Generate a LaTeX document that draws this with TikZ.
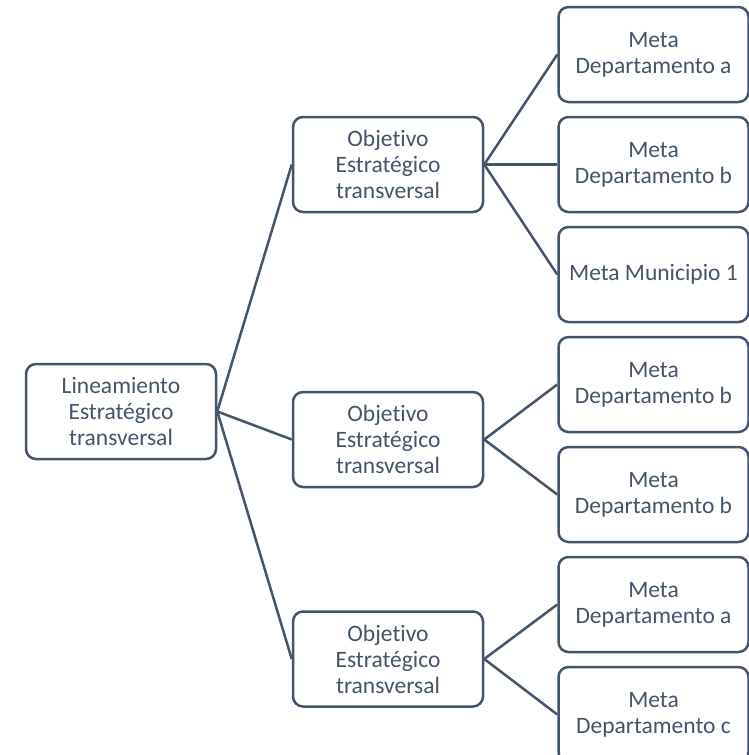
\documentclass[tikz,border=0pt]{standalone}
\usepackage{fontspec}
\setmainfont{Carlito}[Ligatures={NoCommon}]
\definecolor{slate}{HTML}{44546A}
\begin{document}
\begin{tikzpicture}[x=1pt,y=-1pt,
  box/.style={draw=slate, line width=2.5pt, fill=white, rounded corners=10pt,
    minimum width=190pt, minimum height=95pt, inner sep=2pt,
    align=center, text=slate, font=\fontsize{23.5}{26}\selectfont},
  link/.style={draw=slate, line width=2.5pt}]
\clip (0,0) rectangle (749,755);
\useasboundingbox (0,0) rectangle (749,755);
\node[box] (root) at (121,411.5) {Lineamiento\\Estratégico\\transversal};
\node[box] (o1) at (388,164.5) {Objetivo\\Estratégico\\transversal};
\node[box] (o2) at (388,439.5) {Objetivo\\Estratégico\\transversal};
\node[box] (o3) at (388,659) {Objetivo\\Estratégico\\transversal};
\node[box] (m1) at (653.5,54.5) {Meta\\Departamento a};
\node[box] (m2) at (653.5,164.5) {Meta\\Departamento b};
\node[box] (m3) at (653.5,274.5) {Meta Municipio 1};
\node[box] (m4) at (653.5,384.5) {Meta\\Departamento b};
\node[box] (m5) at (653.5,494.5) {Meta\\Departamento b};
\node[box] (m6) at (653.5,604.5) {Meta\\Departamento a};
\node[box] (m7) at (653.5,714.5) {Meta\\Departamento c};
\draw[link] (root.east) -- (o1.west);
\draw[link] (root.east) -- (o2.west);
\draw[link] (root.east) -- (o3.west);
\draw[link] (o1.east) -- (m1.west);
\draw[link] (o1.east) -- (m2.west);
\draw[link] (o1.east) -- (m3.west);
\draw[link] (o2.east) -- (m4.west);
\draw[link] (o2.east) -- (m5.west);
\draw[link] (o3.east) -- (m6.west);
\draw[link] (o3.east) -- (m7.west);
\end{tikzpicture}
\end{document}
